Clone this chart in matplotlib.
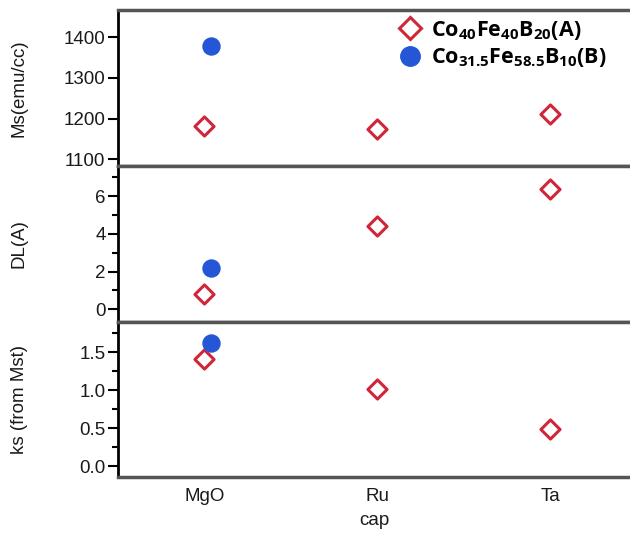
import matplotlib
matplotlib.use("Agg")
import matplotlib.pyplot as plt
from matplotlib.ticker import MultipleLocator, FormatStrFormatter
from matplotlib.lines import Line2D
import numpy as np

plt.rcParams['font.family'] = ['Liberation Sans', 'DejaVu Sans']
plt.rcParams['mathtext.fontset'] = 'custom'
plt.rcParams['mathtext.bf'] = 'Open Sans:bold'
plt.rcParams['mathtext.rm'] = 'Open Sans'

caps = ["MgO", "Ru", "Ta"]
ms_A = [1182, 1175, 1212]
ms_B = [1378]
dl_A = [0.8, 4.4, 6.4]
dl_B = [2.2]
ks_A = [1.41, 1.02, 0.49]
ks_B = [1.62]
cats_B = ["MgO"]

label_A = r"$\mathbf{Co_{40}Fe_{40}B_{20}(A)}$"
label_B = r"$\mathbf{Co_{31.5}Fe_{58.5}B_{10}(B)}$"

red = "#d0263a"
blue = "#2456d6"

fig = plt.figure(figsize=(6.3, 5.33), dpi=100)
left, right = 118/630, 1.0
bounds = [(10, 165.5), (166, 322), (322, 477)]
axes = []
for top, bot in bounds:
    ax = fig.add_axes([left, 1 - bot/533, right - left, (bot - top)/533])
    axes.append(ax)

xA = np.arange(len(caps))
xB = np.array([caps.index(c) for c in cats_B]) + 0.035

panels = [
    (ms_A, ms_B, "Ms(emu/cc)", (1085, 1467), 100, None),
    (dl_A, dl_B, "DL(A)", (-0.68, 7.6), 2, 1),
    (ks_A, ks_B, "ks (from Mst)", (-0.145, 1.9), 0.5, 0.25),
]
for ax, (a, b, lab, ylim, maj, mnr) in zip(axes, panels):
    ax.scatter(xA, a, marker='D', s=95, facecolors='white', edgecolors=red,
               linewidths=2.2, zorder=3)
    ax.scatter(xB, b, marker='o', s=150, color=blue, zorder=3)
    ax.set_xlim(-0.5, 2.46)
    ax.set_ylim(*ylim)
    ax.yaxis.set_major_locator(MultipleLocator(maj))
    if mnr:
        ax.yaxis.set_minor_locator(MultipleLocator(mnr))
    ax.tick_params(axis='y', which='major', length=7, width=1.5, labelsize=13.5,
                   labelcolor='#1a1a1a', pad=2)
    ax.tick_params(axis='y', which='minor', length=4, width=1.5)
    ax.set_ylabel(lab, fontsize=13.5, color='#1a1a1a')
    ax.yaxis.set_label_coords(-0.176, 0.5)
    ax.spines['left'].set_linewidth(2)
    ax.spines['right'].set_visible(False)
    for s in ('top', 'bottom'):
        ax.spines[s].set_color('#555555')
        ax.spines[s].set_linewidth(2.5)
    ax.set_xticks(xA)
    if ax is not axes[-1]:
        ax.tick_params(axis='x', length=0, labelbottom=False)
    else:
        ax.set_xticklabels(caps)
        ax.tick_params(axis='x', length=0, labelsize=13.5, labelcolor='#1a1a1a', pad=8)
        ax.set_xlabel("cap", fontsize=13.5, color='#1a1a1a', labelpad=5)

axes[0].yaxis.set_major_formatter(FormatStrFormatter('%d'))
axes[1].yaxis.set_major_formatter(FormatStrFormatter('%d'))
axes[2].yaxis.set_major_formatter(FormatStrFormatter('%.1f'))

handles = [
    Line2D([], [], marker='D', linestyle='none', markersize=11, markerfacecolor='white',
           markeredgecolor=red, markeredgewidth=2.2),
    Line2D([], [], marker='o', linestyle='none', markersize=14, color=blue),
]
axes[0].legend(handles, [label_A, label_B], loc='upper left', bbox_to_anchor=(0.52, 1.025),
               frameon=False, fontsize=15.5, handletextpad=0.35, labelspacing=0.2,
               borderaxespad=0.2, handlelength=1.2)

fig.savefig("out.png", dpi=100)
